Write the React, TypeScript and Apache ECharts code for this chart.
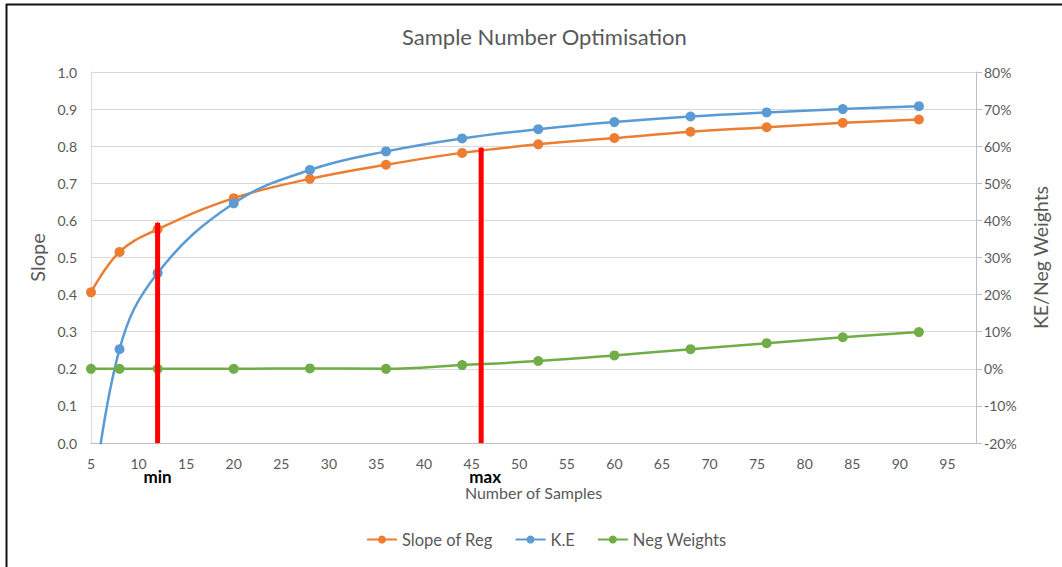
import React, { useEffect, useRef } from "react";
import * as echarts from "echarts";

const samples = [5, 8, 12, 20, 28, 36, 44, 52, 60, 68, 76, 84, 92];
const slopeOfReg = [0.406, 0.515, 0.576, 0.66, 0.712, 0.75, 0.782, 0.805, 0.822, 0.839, 0.851, 0.863, 0.872];
const keValues = [-40, 5.3, 25.8, 44.6, 53.6, 58.6, 62.1, 64.6, 66.5, 68.0, 69.1, 70.0, 70.8];
const negWeights = [0, 0, 0, 0, 0.1, 0, 1.0, 2.1, 3.6, 5.3, 6.9, 8.5, 9.9];
const minMarker = { x: 12, top: 0.594, label: "min" };
const maxMarker = { x: 46, top: 0.796, label: "max" };
const seriesNames = ["Slope of Reg", "K.E", "Neg Weights"];
const colors = ["#ED7D31", "#5B9BD5", "#70AD47"];

const FONT = "Lato, 'Open Sans', sans-serif";
const TEXT = "#595959";

export default function App() {
  const ref = useRef<HTMLDivElement>(null);
  useEffect(() => {
    if (!ref.current) return;
    const chart = echarts.init(ref.current, undefined, { renderer: "svg" });
    const lineSeries = (name: string, data: number[], color: string, yIdx: number) => ({
      name,
      type: "line",
      yAxisIndex: yIdx,
      data: samples.map((x, i) => [x, data[i]]),
      smooth: 0.4,
      symbol: "circle",
      symbolSize: 10,
      clip: true,
      lineStyle: { color, width: 2.5 },
      itemStyle: { color },
      z: 3,
    });
    const marker = (m: { x: number; top: number; label: string }, offX: number) => ({
      type: "line",
      yAxisIndex: 0,
      silent: true,
      symbol: "circle",
      symbolSize: 1,
      showSymbol: true,
      lineStyle: { color: "#FF0000", width: 5 },
      itemStyle: { color: "#FF0000" },
      z: 5,
      data: [
        {
          value: [m.x, 0],
          label: {
            show: true,
            formatter: m.label,
            position: "bottom",
            distance: 24,
            offset: [offX, 0],
            color: "#000",
            fontWeight: "bold",
            fontSize: 17,
            fontFamily: FONT,
          },
        },
        { value: [m.x, m.top] },
      ],
    });
    chart.setOption({
      animation: false,
      backgroundColor: "#fff",
      title: {
        text: "Sample Number Optimisation",
        left: 397,
        top: 20,
        textStyle: { color: TEXT, fontSize: 22, fontWeight: "normal", fontFamily: FONT },
      },
      legend: {
        data: seriesNames,
        bottom: 14,
        left: 361,
        itemWidth: 30,
        itemHeight: 10,
        itemGap: 22,
        textStyle: { color: TEXT, fontSize: 16.5, fontFamily: FONT },
      },
      grid: { left: 91, right: 86, top: 72, bottom: 124, containLabel: false },
      xAxis: {
        type: "value",
        min: 5,
        max: 98,
        interval: 5,
        name: "Number of Samples",
        nameLocation: "middle",
        nameGap: 41,
        nameTextStyle: { color: TEXT, fontSize: 16, fontFamily: FONT },
        axisLine: { show: true, lineStyle: { color: "#BFBFBF", width: 1 } },
        axisTick: { show: false },
        splitLine: { show: false },
        axisLabel: {
          color: TEXT,
          fontSize: 14,
          fontFamily: FONT,
          margin: 13,
          showMaxLabel: false,
          formatter: (v: number) => (v % 5 === 0 ? String(v) : ""),
        },
      },
      yAxis: [
        {
          type: "value",
          min: 0,
          max: 1,
          interval: 0.1,
          name: "Slope",
          nameLocation: "middle",
          nameGap: 39,
          nameTextStyle: { color: TEXT, fontSize: 20, fontFamily: FONT },
          axisLine: { show: true, lineStyle: { color: "#D9D9D9" } },
          axisTick: { show: false },
          splitLine: { show: true, lineStyle: { color: "#D9D9D9", width: 1 } },
          axisLabel: {
            color: TEXT,
            fontSize: 14,
            fontFamily: FONT,
            margin: 14,
            formatter: (v: number) => v.toFixed(1),
          },
        },
        {
          type: "value",
          min: -20,
          max: 80,
          interval: 10,
          position: "right",
          name: "KE/Neg Weights",
          nameLocation: "middle",
          nameGap: 54,
          nameRotate: 90,
          nameTextStyle: { color: TEXT, fontSize: 19.5, fontFamily: FONT },
          axisLine: { show: true, lineStyle: { color: "#BFBFBF" } },
          axisTick: { show: true, length: 6, inside: false, lineStyle: { color: "#BFBFBF" } },
          splitLine: { show: false },
          axisLabel: {
            color: TEXT,
            fontSize: 14,
            fontFamily: FONT,
            margin: 8,
            formatter: "{value}%",
          },
        },
      ],
      graphic: [
        { type: "line", shape: { x1: 6, y1: 4.5, x2: 1062, y2: 4.5 }, style: { stroke: "#111", lineWidth: 2 } },
        { type: "line", shape: { x1: 6.5, y1: 4, x2: 6.5, y2: 567 }, style: { stroke: "#111", lineWidth: 2 } },
      ],
      series: [
        lineSeries(seriesNames[0], slopeOfReg, colors[0], 0),
        lineSeries(seriesNames[1], keValues, colors[1], 1),
        lineSeries(seriesNames[2], negWeights, colors[2], 1),
        marker(minMarker, 0),
        marker(maxMarker, 4),
      ],
    });
    return () => chart.dispose();
  }, []);
  return (
    <div
      ref={ref}
      style={{ position: "fixed", left: 0, top: 0, width: 1062, height: 567 }}
    />
  );
}
